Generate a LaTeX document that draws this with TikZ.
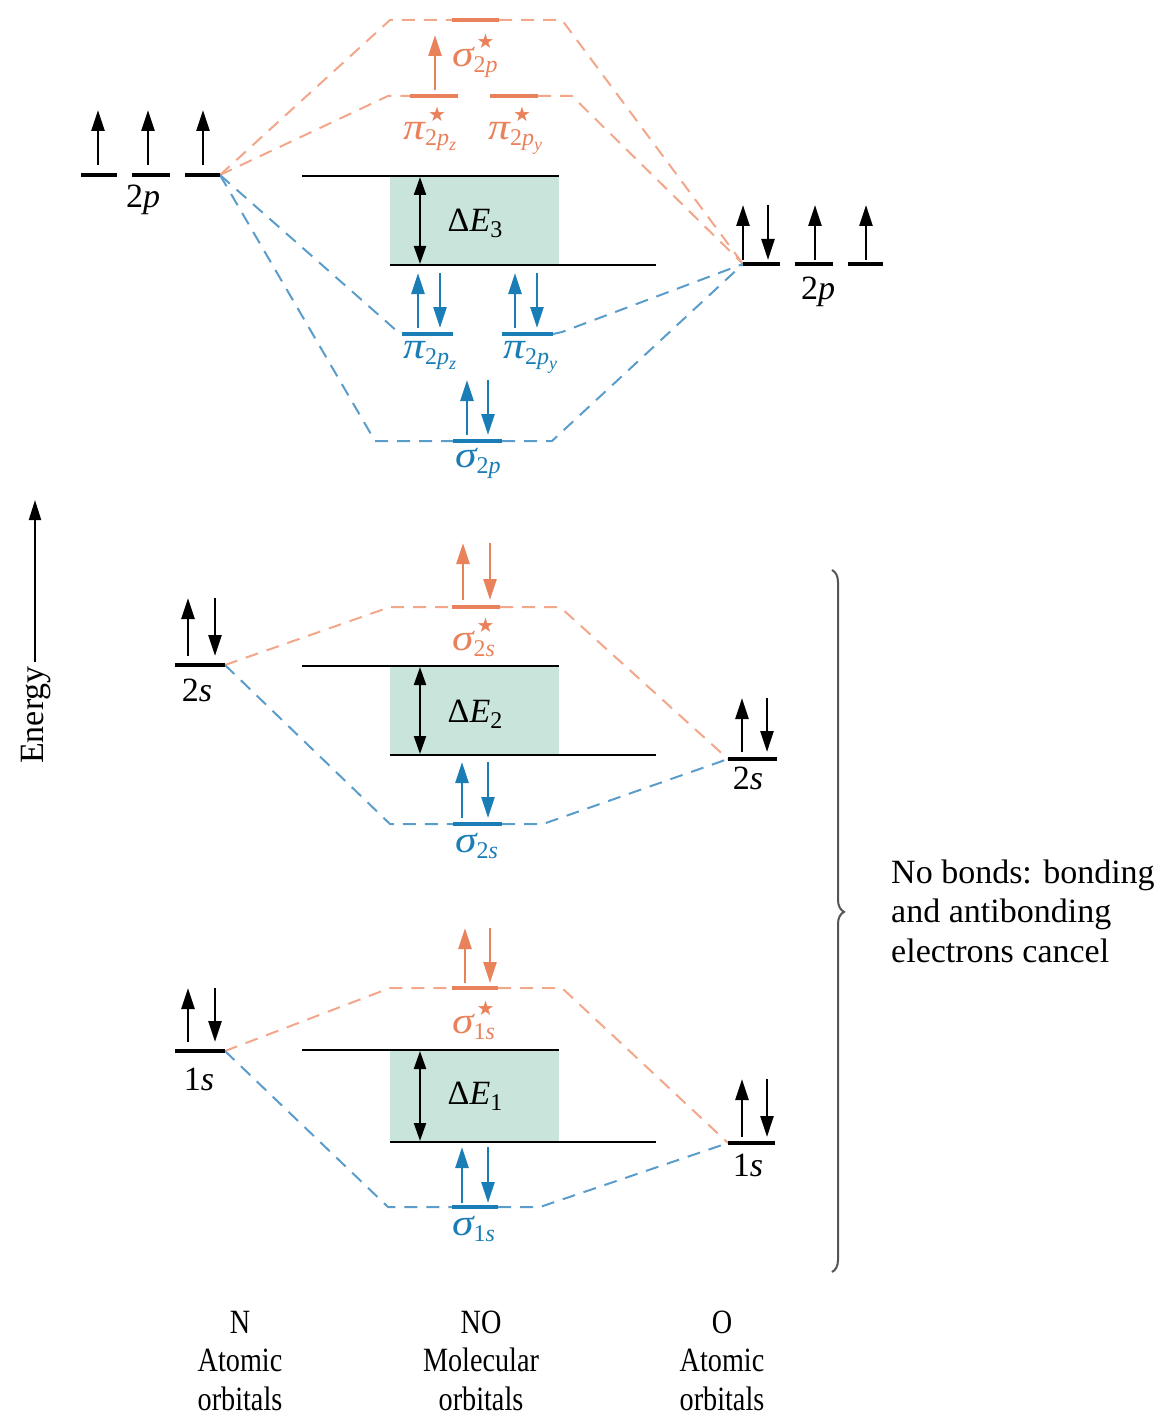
\documentclass[tikz,border=0pt]{standalone}
\usepackage{fontspec}
\setmainfont{Liberation Serif}
\newfontfamily\starf{DejaVu Sans}
\usetikzlibrary{arrows.meta,decorations.pathreplacing}
\definecolor{orng}{HTML}{E9825B}
\definecolor{orngl}{HTML}{F2A78B}
\definecolor{blu}{HTML}{1A7DB5}
\definecolor{blul}{HTML}{5A9CCA}
\definecolor{tealf}{HTML}{C8E4DB}
\definecolor{bracec}{HTML}{555555}
\newcommand{\subf}{\fontsize{24}{24}\selectfont}
\newcommand{\ssubf}{\fontsize{18}{18}\selectfont}
\newcommand{\starmark}{\rlap{\raisebox{18pt}{\hspace{3pt}\starf\fontsize{20}{20}\selectfont ★}}}
\newcommand{\lowered}[1]{\raisebox{-6pt}{\subf #1}}
\newcommand{\gk}[1]{\scalebox{1.28}[1.1]{\itshape #1}}
\begin{document}
\begin{tikzpicture}[x=1pt,y=-1pt,
  lvl/.style={line width=4.5pt},
  el/.style={line width=2.6pt,-{Triangle[length=21pt,width=13pt]}},
  cn/.style={line width=2pt,dash pattern=on 13pt off 9pt},
  gapline/.style={line width=2pt},
  dbl/.style={line width=2.2pt,{Triangle[length=18pt,width=12pt]}-{Triangle[length=18pt,width=12pt]}},
  lab/.style={inner sep=0pt,anchor=base west,font=\fontsize{34}{40}\selectfont},
  albl/.style={inner sep=0pt,anchor=base,font=\fontsize{34}{40}\selectfont},
]
\useasboundingbox (0,0) rectangle (1165,1415);

% ---------- named level ends ----------
\coordinate (N2p) at (220,175);
\coordinate (O2p) at (743,264);
\coordinate (N2s) at (225,665);
\coordinate (O2s) at (728,759);
\coordinate (N1s) at (225,1051);
\coordinate (O1s) at (728,1143);
\coordinate (sa2pL) at (452,20);   \coordinate (sa2pR) at (499,20);
\coordinate (pzaL) at (410,96);    \coordinate (pzaR) at (458,96);
\coordinate (pyaL) at (490,96);    \coordinate (pyaR) at (538,96);
\coordinate (pzL) at (402,334);    \coordinate (pzR) at (453,334);
\coordinate (pyL) at (502,334);    \coordinate (pyR) at (553,334);
\coordinate (s2pL) at (453,441);   \coordinate (s2pR) at (502,441);
\coordinate (sa2sL) at (452,607);  \coordinate (sa2sR) at (500,607);
\coordinate (s2sL) at (453,824);   \coordinate (s2sR) at (502,824);
\coordinate (sa1sL) at (452,988);  \coordinate (sa1sR) at (498,988);
\coordinate (s1sL) at (452,1207);  \coordinate (s1sR) at (498,1207);

% ---------- energy gap boxes ----------
\fill[tealf] (390,176) rectangle (559,265);
\fill[tealf] (390,666) rectangle (559,755);
\fill[tealf] (390,1050) rectangle (559,1142);
\draw[gapline] (302,176) -- (559,176);
\draw[gapline] (390,265) -- (656,265);
\draw[gapline] (302,666) -- (559,666);
\draw[gapline] (390,755) -- (656,755);
\draw[gapline] (302,1050) -- (559,1050);
\draw[gapline] (390,1142) -- (656,1142);
\draw[dbl] (420,177) -- (420,264);
\draw[dbl] (420,667) -- (420,754);
\draw[dbl] (420,1051) -- (420,1141);
\node[albl] (dE3) at (475,232) {Δ{\itshape E}\lowered{3}};
\node[albl] (dE2) at (475,722) {Δ{\itshape E}\lowered{2}};
\node[albl] (dE1) at (475,1104) {Δ{\itshape E}\lowered{1}};

% ---------- dashed correlation lines ----------
\draw[cn,orngl] (N2p) -- (390,20) -- (sa2pL);
\draw[cn,orngl] (sa2pR) -- (562,20) -- (O2p);
\draw[cn,orngl] (N2p) -- (388,96) -- (pzaL);
\draw[cn,orngl] (pyaR) -- (572,96) -- (O2p);
\draw[cn,blul] (N2p) -- (398,332) -- (pzL);
\draw[cn,blul] (pyR) -- (562,332) -- (O2p);
\draw[cn,blul] (N2p) -- (375,441) -- (s2pL);
\draw[cn,blul] (s2pR) -- (552,441) -- (O2p);
\draw[cn,orngl] (N2s) -- (390,607) -- (sa2sL);
\draw[cn,orngl] (sa2sR) -- (560,607) -- (O2s);
\draw[cn,blul] (N2s) -- (390,824) -- (s2sL);
\draw[cn,blul] (s2sR) -- (543,824) -- (O2s);
\draw[cn,orngl] (N1s) -- (390,988) -- (sa1sL);
\draw[cn,orngl] (sa1sR) -- (562,988) -- (O1s);
\draw[cn,blul] (N1s) -- (388,1207) -- (s1sL);
\draw[cn,blul] (s1sR) -- (540,1207) -- (O1s);

% ---------- atomic levels ----------
\draw[lvl] (81,175) -- (117,175);
\draw[lvl] (132,175) -- (170,175);
\draw[lvl] (185,175) -- (N2p);
\draw[lvl] (O2p) -- (780,264);
\draw[lvl] (795,264) -- (833,264);
\draw[lvl] (848,264) -- (883,264);
\draw[lvl] (175,665) -- (N2s);
\draw[lvl] (O2s) -- (777,759);
\draw[lvl] (175,1051) -- (N1s);
\draw[lvl] (O1s) -- (775,1143);

% ---------- molecular levels ----------
\draw[lvl,orng] (sa2pL) -- (sa2pR);
\draw[lvl,orng] (pzaL) -- (pzaR);
\draw[lvl,orng] (pyaL) -- (pyaR);
\draw[lvl,blu] (pzL) -- (pzR);
\draw[lvl,blu] (pyL) -- (pyR);
\draw[lvl,blu] (s2pL) -- (s2pR);
\draw[lvl,orng] (sa2sL) -- (sa2sR);
\draw[lvl,blu] (s2sL) -- (s2sR);
\draw[lvl,orng] (sa1sL) -- (sa1sR);
\draw[lvl,blu] (s1sL) -- (s1sR);

% ---------- electrons ----------
\draw[el] (98,165) -- (98,110);
\draw[el] (148,165) -- (148,110);
\draw[el] (203,165) -- (203,110);
\draw[el] (743,260) -- (743,205);
\draw[el] (768,205) -- (768,260);
\draw[el] (815,260) -- (815,205);
\draw[el] (866,260) -- (866,205);
\draw[el,orng] (435,90) -- (435,35);
\draw[el,blu] (418,328) -- (418,273);
\draw[el,blu] (440,273) -- (440,328);
\draw[el,blu] (515,328) -- (515,273);
\draw[el,blu] (537,273) -- (537,328);
\draw[el,blu] (467,435) -- (467,380);
\draw[el,blu] (488,380) -- (488,435);
\draw[el] (188,656) -- (188,598);
\draw[el] (215,598) -- (215,656);
\draw[el,orng] (463,600) -- (463,543);
\draw[el,orng] (490,543) -- (490,600);
\draw[el] (742,752) -- (742,698);
\draw[el] (767,698) -- (767,752);
\draw[el,blu] (462,818) -- (462,762);
\draw[el,blu] (488,762) -- (488,818);
\draw[el] (188,1042) -- (188,988);
\draw[el] (215,988) -- (215,1042);
\draw[el,orng] (465,983) -- (465,928);
\draw[el,orng] (490,928) -- (490,983);
\draw[el,blu] (462,1203) -- (462,1147);
\draw[el,blu] (488,1147) -- (488,1203);
\draw[el] (742,1137) -- (742,1079);
\draw[el] (767,1079) -- (767,1137);

% ---------- orbital labels ----------
\node[albl] (l2pN) at (143,208) {2{\itshape p}};
\node[albl] (l2pO) at (818,299) {2{\itshape p}};
\node[albl] (l2sN) at (197,701) {2{\itshape s}};
\node[albl] (l2sO) at (748,789) {2{\itshape s}};
\node[albl] (l1sN) at (199,1090) {1{\itshape s}};
\node[albl] (l1sO) at (748,1176) {1{\itshape s}};
\node[lab,orng] (lsa2p) at (452,67) {\gk{σ}\starmark\lowered{2\itshape p}};
\node[lab,orng] (lpza) at (403,140) {\gk{π}\starmark\lowered{2\itshape p\raisebox{-5pt}{\ssubf z}}};
\node[lab,orng] (lpya) at (488,140) {\gk{π}\starmark\lowered{2\itshape p\raisebox{-5pt}{\ssubf y}}};
\node[lab,blu] (lpz) at (403,358) {\gk{π}\lowered{2\itshape p\raisebox{-5pt}{\ssubf z}}};
\node[lab,blu] (lpy) at (503,358) {\gk{π}\lowered{2\itshape p\raisebox{-5pt}{\ssubf y}}};
\node[lab,blu] (ls2p) at (455,467) {\gk{σ}\lowered{2\itshape p}};
\node[lab,orng] (lsa2s) at (452,650) {\gk{σ}\starmark\lowered{2\itshape s}};
\node[lab,blu] (ls2s) at (455,852) {\gk{σ}\lowered{2\itshape s}};
\node[lab,orng] (lsa1s) at (452,1033) {\gk{σ}\starmark\lowered{1\itshape s}};
\node[lab,blu] (ls1s) at (452,1235) {\gk{σ}\lowered{1\itshape s}};

% ---------- energy axis ----------
\node[albl,rotate=90] (energy) at (43,715) {Energy};
\coordinate (ebot) at (35,662);
\coordinate (etop) at (35,500);
\draw[line width=2pt,-{Triangle[length=20pt,width=12pt]}] (ebot) -- (etop);

% ---------- brace ----------
\coordinate (brt) at (832,570);
\coordinate (brb) at (832,1272);
\draw[bracec,line width=2pt,decorate,decoration={brace,amplitude=12pt,aspect=0.487}] (brt) -- (brb);
\node[inner sep=0pt,anchor=base west,font=\fontsize{34}{39.5}\selectfont] (note) at (891,883)
  {\begin{tabular}[t]{@{}l@{}}No bonds: bonding\\ and antibonding\\ electrons cancel\end{tabular}};

% ---------- column captions ----------
\node[albl] (capN) at (240,1333) {\scalebox{0.83}[1]{\fontsize{34}{38.5}\selectfont\begin{tabular}[t]{@{}c@{}}N\\ Atomic\\ orbitals\end{tabular}}};
\node[albl] (capNO) at (481,1333) {\scalebox{0.83}[1]{\fontsize{34}{38.5}\selectfont\begin{tabular}[t]{@{}c@{}}NO\\ Molecular\\ orbitals\end{tabular}}};
\node[albl] (capO) at (722,1333) {\scalebox{0.83}[1]{\fontsize{34}{38.5}\selectfont\begin{tabular}[t]{@{}c@{}}O\\ Atomic\\ orbitals\end{tabular}}};
\end{tikzpicture}
\end{document}
